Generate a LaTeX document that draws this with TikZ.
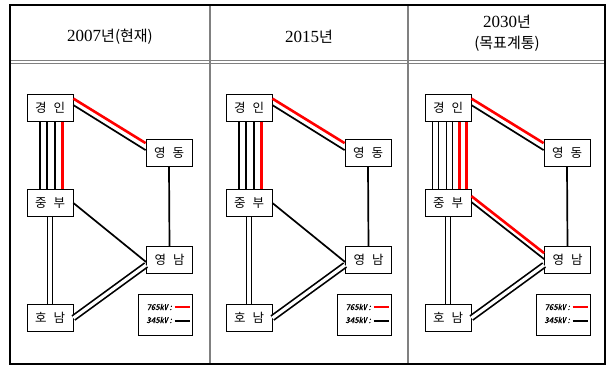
\documentclass[tikz,border=0pt]{standalone}
\usepackage{fontspec}
\setmainfont{Liberation Serif}
\newfontfamily\kr{Noto Sans CJK KR}
\newfontfamily\krleg[FakeSlant=0.2,FakeBold=1.5]{Noto Sans CJK KR}
\usetikzlibrary{calc}
\definecolor{lred}{RGB}{255,0,0}
\definecolor{divgray}{RGB}{128,128,128}
\tikzset{
  station/.style={draw, line width=0.8pt, minimum width=46pt, minimum height=27pt, inner sep=0pt, fill=white, font=\kr\fontsize{12.5}{12}\selectfont},
  blk/.style={line width=1.7pt, black},
  rd/.style={line width=2.6pt, lred},
  dbl/.style={line width=1.7pt, black, double=white, double distance=3.2pt},
  legbox/.style={draw, line width=0.8pt, minimum width=54pt, minimum height=41pt, inner sep=0pt},
  legtext/.style={font=\krleg\fontsize{8}{8}\selectfont, inner sep=0pt, anchor=east},
  head/.style={align=center, inner sep=0pt, font=\fontsize{17}{20}\selectfont},
  grid/.style={line width=1.3pt, divgray},
}
\newcommand{\hk}[1]{{\kr\fontsize{15}{18}\selectfont #1}}
\newcommand{\sname}[2]{#1\hspace{7pt}#2}
\begin{document}
\begin{tikzpicture}[x=1pt,y=-1pt]
\useasboundingbox (0,0) rectangle (613,367);
% grid
\draw[grid] (210,5) -- (210,364);
\draw[grid] (408,5) -- (408,364);
\draw[line width=1pt, divgray] (10,60.5) -- (605,60.5);
\draw[line width=1pt, divgray] (10,63.3) -- (605,63.3);
\draw[line width=1.4pt] (10,5) rectangle (605,364);
% headers
\node[head] (h1) at (110,37) {2007\hk{년(현재)}};
\node[head] (h2) at (309,37) {2015\hk{년}};
\node[head] (h3a) at (507,22) {2030\hk{년}};
\node[head] (h3b) at (507,44) {\hk{(목표계통)}};

% ---------- panels ----------
\foreach \p/\dx in {1/0,2/199,3/398}{
  \begin{scope}[xshift=\dx pt]
    \node[station] (gi\p) at (50,108) {\sname{경}{인}};
    \node[station] (yd\p) at (169,153) {\sname{영}{동}};
    \node[station] (jb\p) at (50,203) {\sname{중}{부}};
    \node[station] (yn\p) at (169.5,260) {\sname{영}{남}};
    \node[station] (hn\p) at (50,318) {\sname{호}{남}};
    \node[legbox] (lg\p) at (165,314.5) {};
    \node[legtext] (lt1\p) at ($(lg\p.center)+(7,-7.5)$) {765㎸ :};
    \node[legtext] (lt2\p) at ($(lg\p.center)+(7,5.5)$) {345㎸ :};
    \coordinate (la\p) at ($(lg\p.center)+(9.5,-7.5)$);
    \coordinate (lb\p) at ($(lg\p.center)+(25,-7.5)$);
    \coordinate (lc\p) at ($(lg\p.center)+(9.5,6)$);
    \coordinate (ld\p) at ($(lg\p.center)+(25,6)$);
    \draw[rd, line width=2.4pt] (la\p) -- (lb\p);
    \draw[blk, line width=2pt] (lc\p) -- (ld\p);
    % common links
    \draw[rd] ([yshift=-4.5pt]gi\p.north east) -- ([yshift=-4pt]yd\p.north west);
    \draw[blk] ([yshift=-11pt]gi\p.north east) -- ([yshift=-11pt]yd\p.north west);
    \draw[blk] (yd\p.south) -- (yn\p.north);
    \draw[dbl] (jb\p.south) -- (hn\p.north);
    \draw[dbl] ([yshift=-5pt]yn\p.west) -- (hn\p.east);
  \end{scope}
}
% panels 1 and 2: gyeongin - jungbu, jungbu - yeongnam
\foreach \p in {1,2}{
  \foreach \o in {-10,-2.7,5}{
    \draw[blk] ([xshift=\o pt]gi\p.south) -- ([xshift=\o pt]jb\p.north);
  }
  \draw[rd] ([xshift=12.5pt]gi\p.south) -- ([xshift=12.5pt]jb\p.north);
  \draw[blk] (jb\p.east) -- ([yshift=-2pt]yn\p.west);
}
% panel 3
\foreach \o in {-15.5,-9.5,-1.5,4.5}{
  \draw[blk] ([xshift=\o pt]gi3.south) -- ([xshift=\o pt]jb3.north);
}
\foreach \o in {11.5,18.5}{
  \draw[rd] ([xshift=\o pt]gi3.south) -- ([xshift=\o pt]jb3.north);
}
\draw[rd] ([yshift=-7pt]jb3.north east) -- ([yshift=-7pt]yn3.north west);
\draw[blk] ([yshift=-13pt]jb3.north east) -- ([yshift=-13pt]yn3.north west);
\end{tikzpicture}
\end{document}
